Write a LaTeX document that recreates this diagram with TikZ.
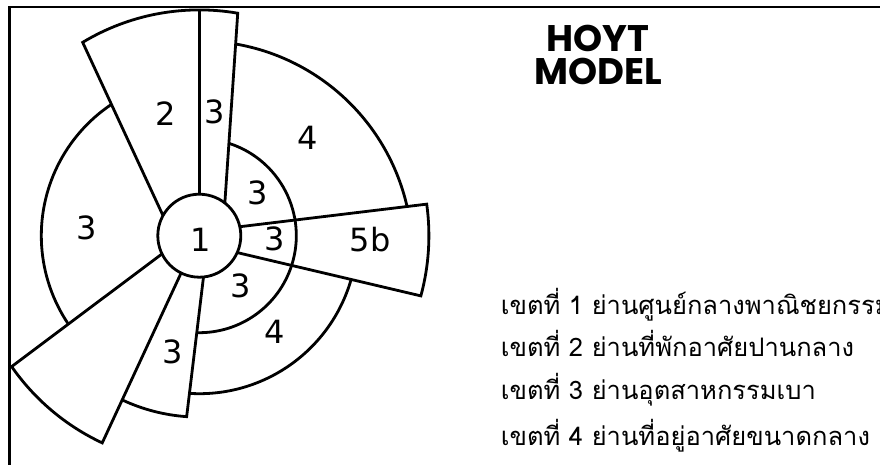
\documentclass[tikz,border=0pt]{standalone}
\usepackage{fontspec}
\setmainfont{DejaVu Sans}
\newfontfamily\thaifont[Script=Thai]{Loma}
\newfontfamily\titlefont{Poppins}
\usetikzlibrary{calc}

\begin{document}
\begin{tikzpicture}[x=1pt,y=1pt,
  zone/.style={line width=2.8pt, line join=miter},
  num/.style={inner sep=0pt, font=\fontsize{32}{32}\selectfont},
  title/.style={anchor=base, inner sep=0pt, align=center, font=\titlefont\bfseries\fontsize{37}{33.3}\selectfont},
  key/.style={anchor=base west, inner sep=0pt, font=\thaifont\fontsize{25.5}{25.5}\selectfont}]
\useasboundingbox (0,0) rectangle (880,464);
\draw[line width=2.6pt] (9.5,-5) -- (9.5,457) -- (885,457);
\coordinate (c) at (199.3,228.3);
% centre
\draw[zone] (c) circle (41.5);
% zone 2 and the thin strip 3 above it
\draw[zone] ($(c)+(151:41.5)$) -- ($(c)+(121.1:225.8)$)
  arc[start angle=121.1, end angle=80.2, radius=225.8] -- ($(c)+(52:41.5)$);
\draw[zone] ($(c)+(90:41.5)$) -- ($(c)+(90:225.8)$);
% ring of zone 4, upper right
\draw[zone] ($(c)+(36.3,191.7)$) arc[start angle=80.2, end angle=12.9, radius=213.1];
% ring of zone 3, inner
\draw[zone] ($(c)+(72.3:97)$) arc[start angle=72.3, end angle=-91.5, radius=97];
% zone 5b
\draw[zone] ($(c)+(12.5:41.5)$) -- ($(c)+(7.9:229.6)$)
  arc[start angle=7.9, end angle=-15.2, radius=229.6] -- ($(c)+(-24:41.5)$);
% ring of zone 4, lower
\draw[zone] ($(c)+(-16.1:158)$) arc[start angle=-16.1, end angle=-93.6, radius=158];
% strip 3 below
\draw[zone] ($(c)+(-84.2:41.5)$) -- ($(c)+(-94:181.4)$)
  arc[start angle=-94, end angle=-115, radius=181.4];
% big wedge lower left
\draw[zone] ($(c)+(-154:41.5)$) -- ($(c)+(-145.1:228.8)$)
  arc[start angle=214.9, end angle=244.9, radius=228.8] -- ($(c)+(-116:41.5)$);
% ring of zone 3, left
\draw[zone] ($(c)+(123.7:158)$) arc[start angle=123.7, end angle=214.2, radius=158];

\node[num] (n1) at (201,224) {1};
\node[num] (n2) at (165.7,350.7) {2};
\node[num] (n3top) at (215,352.3) {3};
\node[num] (n4up) at (307.3,325.7) {4};
\node[num] (n3left) at (86.7,235.7) {3};
\node[num] (n3in) at (257.7,270.7) {3};
\node[num] (n3band) at (275,224.7) {3};
\node[num] (n5b) at (370,224) {5b};
\node[num] (n3low) at (241,178) {3};
\node[num] (n4low) at (275,132.3) {4};
\node[num] (n3strip) at (172.7,112.3) {3};

\node[title] (title) at (598,379) {HOYT\\MODEL};

\node[key] (key1) at (500.7,150) {เขตที่ 1 ย่านศูนย์กลางพาณิชยกรรม};
\node[key] (key2) at (500.7,108) {เขตที่ 2 ย่านที่พักอาศัยปานกลาง};
\node[key] (key3) at (500.7,64.5) {เขตที่ 3 ย่านอุตสาหกรรมเบา};
\node[key] (key4) at (500.7,19) {เขตที่ 4 ย่านที่อยู่อาศัยขนาดกลาง};
\end{tikzpicture}
\end{document}
